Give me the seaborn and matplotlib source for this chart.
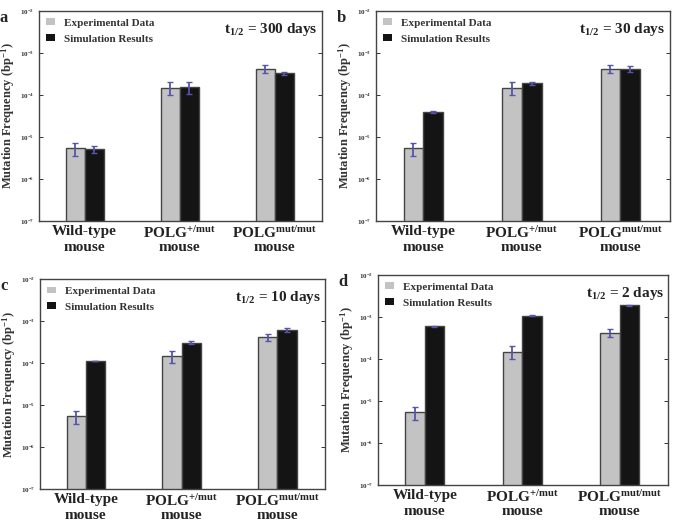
import numpy as np
import pandas as pd
import seaborn as sns
import matplotlib.pyplot as plt
from matplotlib.ticker import LogLocator, NullLocator

categories = ["Wild-type\nmouse", "POLG$^{\\mathrm{+/mut}}$\nmouse", "POLG$^{\\mathrm{mut/mut}}$\nmouse"]
sources = ["Experimental Data", "Simulation Results"]

exp_values = [5.4e-6, 1.5e-4, 4.2e-4]
exp_errors = [1.9e-6, 5.0e-5, 9.0e-5]

panel_letters = ["a", "b", "c", "d"]
half_lives = ["300", "30", "10", "2"]

sim_values_a = [5.2e-6, 1.58e-4, 3.3e-4]
sim_errors_a = [1.0e-6, 5.0e-5, 3.0e-5]
sim_values_b = [3.9e-5, 1.9e-4, 4.2e-4]
sim_errors_b = [2.5e-6, 1.5e-5, 7.0e-5]
sim_values_c = [1.14e-4, 3.1e-4, 6.1e-4]
sim_errors_c = [2.0e-6, 2.5e-5, 7.0e-5]
sim_values_d = [6.0e-4, 1.08e-3, 1.9e-3]
sim_errors_d = [5.0e-6, 1.5e-5, 2.0e-5]

sim_values = [sim_values_a, sim_values_b, sim_values_c, sim_values_d]
sim_errors = [sim_errors_a, sim_errors_b, sim_errors_c, sim_errors_d]

sns.set_style("ticks")
plt.rcParams["font.family"] = ["Liberation Serif", "DejaVu Serif"]
plt.rcParams["font.weight"] = "bold"
plt.rcParams["mathtext.fontset"] = "custom"
plt.rcParams["mathtext.rm"] = "Liberation Serif:bold"
plt.rcParams["mathtext.it"] = "Liberation Serif:bold"
plt.rcParams["mathtext.bf"] = "Liberation Serif:bold"

fig = plt.figure(figsize=(6.75, 5.27), dpi=100)

# axes rectangles in figure fractions (left, bottom, width, height)
rects = [
    (0.058, 0.581, 0.419, 0.398),
    (0.557, 0.581, 0.435, 0.398),
    (0.059, 0.072, 0.423, 0.398),
    (0.560, 0.080, 0.430, 0.398),
]

for i in range(4):
    ax = fig.add_axes(rects[i])
    df = pd.DataFrame({
        "group": categories * 2,
        "source": [sources[0]] * 3 + [sources[1]] * 3,
        "value": exp_values + sim_values[i],
    })
    ax.set_yscale("log")
    sns.barplot(data=df, x="group", y="value", hue="source",
                palette=["#c3c3c3", "#141414"], width=0.4, errorbar=None,
                edgecolor="#444444", linewidth=1.0, ax=ax)

    errs = [exp_errors, sim_errors[i]]
    vals = [exp_values, sim_values[i]]
    bar_sets = list(ax.containers)
    for k, cont in enumerate(bar_sets):
        xs = [b.get_x() + b.get_width() / 2 for b in cont]
        ax.errorbar(xs, vals[k], yerr=errs[k], fmt="none", ecolor="#5555aa",
                    elinewidth=1.3, capsize=2.5, capthick=1.0, zorder=5)

    ax.set_ylim(1e-7, 1e-2)
    ax.set_xlim(-0.48, 2.5)
    ax.yaxis.set_major_locator(LogLocator(base=10, numticks=10))
    ax.yaxis.set_minor_locator(NullLocator())
    ax.tick_params(axis="y", which="major", direction="in", length=3,
                   labelsize=5, right=True, width=0.7, colors="#333333")
    ax.tick_params(axis="x", length=0, labelsize=11, pad=3)
    for lab in ax.get_xticklabels():
        lab.set_fontweight("bold")
        lab.set_color("#222222")
        # plain label needs more spacing to line up with the superscripted ones
        lab.set_linespacing(1.0 if "$" in lab.get_text() else 1.3)
    ax.set_xlabel("")
    ax.set_ylabel("Mutation Frequency (bp$^{-1}$)", fontsize=9,
                  fontweight="bold", color="#333333", labelpad=2)
    for sp in ax.spines.values():
        sp.set_visible(True)
        sp.set_color("#444444")
        sp.set_linewidth(1.0)

    leg = ax.legend(loc="upper left", frameon=False, fontsize=8,
                    handlelength=0.8, handleheight=0.55, handletextpad=0.8,
                    labelspacing=0.6, borderaxespad=0.25)
    for h in leg.legend_handles:
        h.set_edgecolor("none")
    for t in leg.get_texts():
        t.set_color("#333333")
        t.set_fontweight("bold")

    ax.text(0.985, 0.955, "t$_{\\mathrm{1/2}}$ = " + half_lives[i] + " days",
            transform=ax.transAxes, ha="right", va="top", fontsize=11,
            fontweight="bold", color="#222222")

    x0, y0, w, h = rects[i]
    fig.text(x0 - 0.058, y0 + h + 0.002, panel_letters[i], fontsize=12,
             fontweight="bold", va="top", ha="left")

fig.savefig("out.png", dpi=100)
